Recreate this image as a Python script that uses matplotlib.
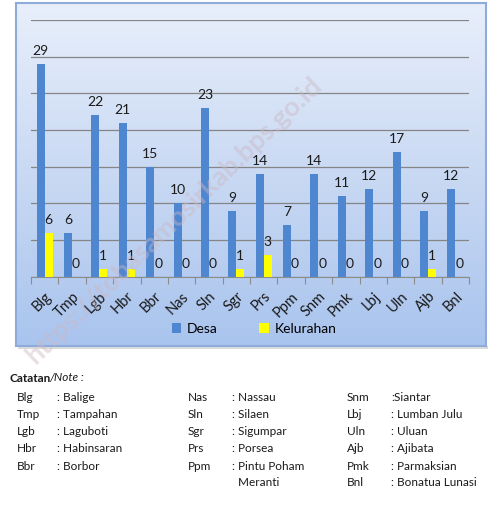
import numpy as np
import matplotlib
matplotlib.use("Agg")
import matplotlib.pyplot as plt
from matplotlib.patches import Patch, Rectangle
from matplotlib.colors import LinearSegmentedColormap

plt.rcParams['font.family'] = ['Lato', 'DejaVu Sans']

categories = ["Blg", "Tmp", "Lgb", "Hbr", "Bbr", "Nas", "Sln", "Sgr",
              "Prs", "Ppm", "Snm", "Pmk", "Lbj", "Uln", "Ajb", "Bnl"]
desa = [29, 6, 22, 21, 15, 10, 23, 9, 14, 7, 14, 11, 12, 17, 9, 12]
kelurahan = [6, 0, 1, 1, 0, 0, 0, 1, 3, 0, 0, 0, 0, 0, 1, 0]
series_names = ["Desa", "Kelurahan"]

note_col1 = [("Blg", ": Balige"), ("Tmp", ": Tampahan"), ("Lgb", ": Laguboti"),
             ("Hbr", ": Habinsaran"), ("Bbr", ": Borbor")]
note_col2 = [("Nas", ": Nassau"), ("Sln", ": Silaen"), ("Sgr", ": Sigumpar"),
             ("Prs", ": Porsea"), ("Ppm", ": Pintu Poham"), ("", "  Meranti")]
note_col3 = [("Snm", ":Siantar"), ("Lbj", ": Lumban Julu"), ("Uln", ": Uluan"),
             ("Ajb", ": Ajibata"), ("Pmk", ": Parmaksian"), ("Bnl", ": Bonatua Lunasi")]

W, H = 490, 522
fig = plt.figure(figsize=(W / 100, H / 100), dpi=100)
fig.patch.set_facecolor("white")

def fx(px):
    return px / W

def fy(py):
    return 1 - py / H

# panel with gradient
pl, pr, pt, pb = 16, 486, 3, 346
bg = fig.add_axes([fx(pl), fy(pb), fx(pr) - fx(pl), fy(pt) - fy(pb)], zorder=0)
cmap = LinearSegmentedColormap.from_list("g", ["#e8effb", "#c9d9f3", "#a9c4ee"])
grad = np.linspace(0, 1, 256).reshape(-1, 1)
bg.imshow(grad, aspect="auto", cmap=cmap, extent=[0, 1, 0, 1], origin="upper")
bg.set_xlim(0, 1)
bg.set_ylim(0, 1)
bg.set_xticks([])
bg.set_yticks([])
for s in bg.spines.values():
    s.set_edgecolor("#8eabd9")
    s.set_linewidth(1.5)

# shadow
fig.patches.append(Rectangle((fx(pl + 2), fy(pb + 3)), fx(pr) - fx(pl), 3 / H,
                             transform=fig.transFigure, facecolor="#dcdcdc",
                             edgecolor="none", zorder=-1))

ax = fig.add_axes([fx(31), fy(276.7), fx(469) - fx(31), fy(20) - fy(276.7)], zorder=1)
ax.patch.set_alpha(0)
x = np.arange(len(categories))
w = 0.29
b1 = ax.bar(x - w / 2, desa, w, color="#4f86d0", zorder=3)
b2 = ax.bar(x + w / 2, kelurahan, w, color="#ffff00", zorder=3)

for bars, vals in ((b1, desa), (b2, kelurahan)):
    for rect, v in zip(bars, vals):
        ax.annotate(str(v), (rect.get_x() + rect.get_width() / 2, v),
                    xytext=(0, 5), textcoords="offset points",
                    ha="center", va="bottom", fontsize=10, color="#1a1a1a")

ax.set_ylim(0, 35)
ax.set_xlim(-0.5, len(categories) - 0.5)
ax.set_yticks(np.arange(0, 36, 5))
ax.yaxis.grid(True, color="#858585", linewidth=0.9, zorder=0)
ax.tick_params(axis="y", left=False, labelleft=False)
for s in ["top", "right", "left"]:
    ax.spines[s].set_visible(False)
ax.spines["bottom"].set_color("#8c8c8c")
ax.set_xticks(np.arange(-0.5, len(categories), 1), minor=False)
ax.set_xticklabels([])
ax.tick_params(axis="x", which="major", length=5, color="#8c8c8c", direction="out")
ax.set_xticks(x, minor=True)
ax.set_xticklabels(categories, minor=True, rotation=45, ha="right",
                   rotation_mode="anchor", fontsize=10.5, color="#1a1a1a")
ax.tick_params(axis="x", which="minor", length=0, pad=9)

handles = [Patch(facecolor="#4f86d0"), Patch(facecolor="#ffff00")]
fig.legend(handles, series_names, loc="center", bbox_to_anchor=(fx(254), fy(329)),
           ncol=2, frameon=False, fontsize=10, handlelength=0.7, handleheight=0.7,
           handletextpad=0.4, columnspacing=3.0)

# watermark
fig.text(fx(174), fy(220), "https://tobasamosirkab.bps.go.id", rotation=44,
         fontsize=19.5, fontweight="bold", color="#cbb8c4", alpha=0.45,
         ha="center", va="center", zorder=5)

# notes
t = fig.text(fx(9), fy(378), "Catatan", fontsize=8.5, fontweight="bold",
             ha="left", va="center", color="#1a1a1a")
fig.canvas.draw()
bb = t.get_window_extent()
fig.text((bb.x1 - 1) / W, fy(378), "/Note :", fontsize=8.5, fontstyle="italic",
         ha="left", va="center", color="#1a1a1a")

rows_y = [397.7, 415, 431.7, 449, 466, 483]
for col, (xa, xc) in zip((note_col1, note_col2, note_col3),
                         ((16.7, 56.7), (187.7, 232.3), (346.7, 391))):
    for (ab, name), yy in zip(col, rows_y):
        if ab:
            fig.text(fx(xa), fy(yy), ab, fontsize=8.5, ha="left", va="center", color="#1a1a1a")
        fig.text(fx(xc), fy(yy), name, fontsize=8.5, ha="left", va="center", color="#1a1a1a")

fig.savefig("out.png", dpi=100)
